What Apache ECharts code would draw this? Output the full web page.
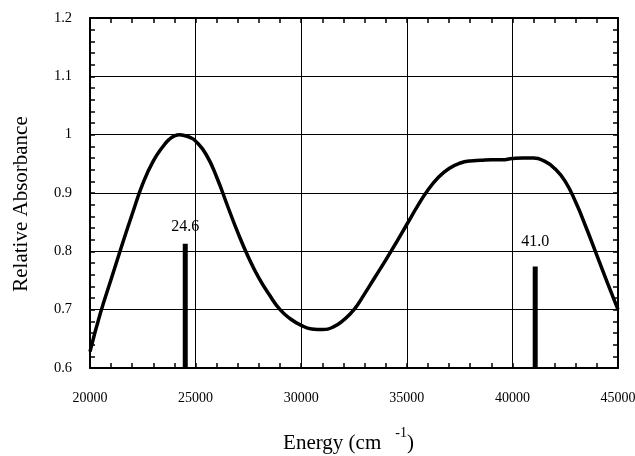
<!DOCTYPE html>
<html>
<head>
<meta charset="utf-8">
<script src="https://cdn.jsdelivr.net/npm/echarts@6/dist/echarts.min.js"></script>
<style>
    html, body { margin: 0; padding: 0; background: #fff; }
    #chart { width: 635px; height: 456px; }
</style>
</head>
<body>
<div id="chart"></div>
<script>
// absorption curve
const energy = [20000, 20500, 21000, 21500, 22000, 22500, 23000, 23500, 23750, 24000,
    24250, 24500, 24750, 25000, 25500, 26000, 26500, 27000, 27500, 28000,
    28500, 29000, 29500, 30000, 30500, 31000, 31500, 32000, 32500, 33000,
    33500, 34000, 34500, 35000, 35500, 36000, 36500, 37000, 37500, 38000,
    38500, 39000, 39500, 40000, 40500, 41000, 41500, 42000, 42500, 43000,
    43500, 44000, 44500, 45000];
const absorbance = [0.628, 0.695, 0.752, 0.809, 0.864, 0.916, 0.955, 0.982, 0.992, 0.998,
    1.0, 0.998, 0.995, 0.989, 0.966, 0.927, 0.879, 0.832, 0.79, 0.754,
    0.725, 0.70, 0.684, 0.673, 0.667, 0.666, 0.670, 0.682, 0.70, 0.727,
    0.756, 0.785, 0.815, 0.846, 0.877, 0.905, 0.927, 0.942, 0.951, 0.955,
    0.956, 0.957, 0.957, 0.959, 0.96, 0.96, 0.955, 0.942, 0.92, 0.884,
    0.84, 0.793, 0.746, 0.70];

// calculated transitions (sticks)
const stickEnergy = [24510, 41080];
const stickHeight = [0.813, 0.774];
const stickLabels = ['24.6', '41.0'];

const xTicks = { min: 20000, max: 45000, interval: 5000 };
const yTicks = { min: 0.6, max: 1.2, interval: 0.1 };

const serif = 'Liberation Serif';
const chart = echarts.init(document.getElementById('chart'));

const curve = energy.map((e, i) => [e, absorbance[i]]);
const sticks = stickEnergy.map((e, i) => ({
    value: [e, stickHeight[i]],
    label: { distance: i === 0 ? 9 : 17 }
}));

const frameLine = { show: true, onZero: false, lineStyle: { color: '#000', width: 2 } };
const inTick = { show: true, inside: true, length: 5, lineStyle: { color: '#000', width: 1.5 } };
const minor = { show: true, splitNumber: 5, length: 5, lineStyle: { color: '#000', width: 1.5 } };

chart.setOption({
    animation: false,
    backgroundColor: '#fff',
    grid: { left: 90, right: 17, top: 18, bottom: 88, outerBoundsMode: 'none', containLabel: false },
    xAxis: [
        {
            type: 'value', position: 'bottom',
            min: xTicks.min, max: xTicks.max, interval: xTicks.interval,
            axisLine: frameLine, axisTick: inTick, minorTick: minor,
            splitLine: { show: true, lineStyle: { color: '#000', width: 1 } },
            axisLabel: { color: '#000', fontFamily: serif, fontSize: 14, margin: 23, formatter: v => String(v) },
            name: 'Energy (cm{sup|-1}{p|)}',
            nameLocation: 'middle',
            nameGap: 58,
            nameTextStyle: {
                color: '#000', fontFamily: serif, fontSize: 21, lineHeight: 34,
                padding: [0, 11, 0, 0],
                rich: {
                    sup: { fontFamily: serif, fontSize: 14, color: '#000', verticalAlign: 'top', lineHeight: 14, padding: [0, 0, 0, 14] },
                    p: { fontFamily: serif, fontSize: 21, color: '#000', lineHeight: 34 }
                }
            }
        },
        {
            type: 'value', position: 'top',
            min: xTicks.min, max: xTicks.max, interval: xTicks.interval,
            axisLine: frameLine, axisTick: inTick, minorTick: minor,
            splitLine: { show: false }, axisLabel: { show: false }
        }
    ],
    yAxis: [
        {
            type: 'value', position: 'left',
            min: yTicks.min, max: yTicks.max, interval: yTicks.interval,
            startValue: yTicks.min,
            axisLine: frameLine, axisTick: inTick, minorTick: minor,
            splitLine: { show: true, lineStyle: { color: '#000', width: 1 } },
            axisLabel: { color: '#000', fontFamily: serif, fontSize: 14.5, margin: 18 },
            name: 'Relative Absorbance',
            nameLocation: 'middle',
            nameGap: 58,
            nameTextStyle: { color: '#000', fontFamily: serif, fontSize: 21, padding: [0, 22, 0, 0] }
        },
        {
            type: 'value', position: 'right',
            min: yTicks.min, max: yTicks.max, interval: yTicks.interval,
            axisLine: frameLine, axisTick: inTick, minorTick: minor,
            splitLine: { show: false }, axisLabel: { show: false }
        }
    ],
    series: [
        {
            type: 'line',
            data: curve,
            smooth: 0.5,
            showSymbol: false,
            clip: true,
            lineStyle: { color: '#000', width: 3.5 }
        },
        {
            type: 'bar',
            data: sticks,
            barWidth: 5,
            itemStyle: { color: '#000' },
            label: {
                show: true, position: 'top',
                color: '#000', fontFamily: serif, fontSize: 16,
                formatter: p => stickLabels[p.dataIndex]
            }
        }
    ]
});
</script>
</body>
</html>
